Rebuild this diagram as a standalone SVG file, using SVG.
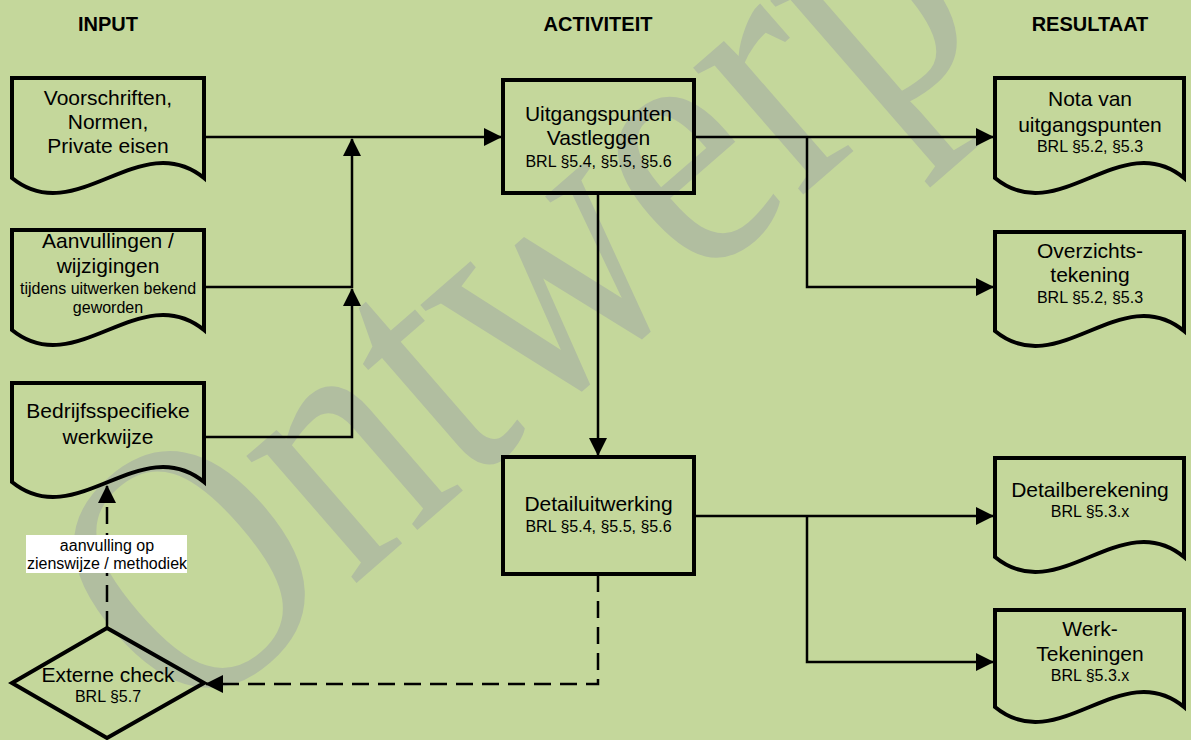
<svg xmlns="http://www.w3.org/2000/svg" width="1191" height="740" viewBox="0 0 1191 740">
<style>
.t{font-family:"Liberation Sans",Arial,sans-serif;fill:#000;text-anchor:middle}
.h{font-size:20px;font-weight:bold}
.m{font-size:21px}
.s{font-size:16px}
.shape{fill:none;stroke:#000;stroke-width:4;stroke-linejoin:miter}
.c{fill:none;stroke:#000;stroke-width:2.5}
.d{stroke-dasharray:17 9}
</style>
<defs>
<marker id="arr" viewBox="0 0 18 18" refX="17" refY="9" markerWidth="18" markerHeight="18" markerUnits="userSpaceOnUse" orient="auto">
<path d="M0,0 L18,9 L0,18 Z" fill="#000"/>
</marker>
</defs>
<rect x="0" y="0" width="1191" height="740" fill="#c4d79b"/>
<text x="0" y="0" transform="translate(185,732) rotate(-41) scale(1,1.2)" font-family="'Liberation Serif','Times New Roman',serif" font-size="305" fill="#b1bea0">Ontwerp</text>

<g id="headers">
<text class="t h" x="108" y="31">INPUT</text>
<text class="t h" x="598" y="31">ACTIVITEIT</text>
<text class="t h" x="1090" y="31">RESULTAAT</text>
</g>

<g id="connectors">
<path class="c" d="M204,137 H501" marker-end="url(#arr)"/>
<path class="c" d="M204,287 H352 V139" marker-end="url(#arr)"/>
<path class="c" d="M204,437 H352 V289" marker-end="url(#arr)"/>
<path class="c" d="M694,137 H993" marker-end="url(#arr)"/>
<path class="c" d="M807,137 V287 H993" marker-end="url(#arr)"/>
<path class="c" d="M598,193 V455" marker-end="url(#arr)"/>
<path class="c" d="M694,516 H993" marker-end="url(#arr)"/>
<path class="c" d="M807,516 V662 H993" marker-end="url(#arr)"/>
<path class="c d" d="M598,575 V684 H206" marker-end="url(#arr)"/>
<path class="c d" d="M107,628 V486" marker-end="url(#arr)"/>
</g>

<g id="n-voorschriften">
<path class="shape" d="M12,178 V78 H204 V178 C140,126 76,230 12,178 Z"/>
<text class="t m" x="108" y="105">Voorschriften,</text>
<text class="t m" x="108" y="129">Normen,</text>
<text class="t m" x="108" y="153">Private eisen</text>
</g>

<g id="n-aanvullingen">
<path class="shape" d="M12,330 V230 H204 V330 C140,278 76,382 12,330 Z"/>
<text class="t m" x="108" y="248">Aanvullingen /</text>
<text class="t m" x="108" y="273">wijzigingen</text>
<text class="t s" x="108" y="294">tijdens uitwerken bekend</text>
<text class="t s" x="108" y="313">geworden</text>
</g>

<g id="n-bedrijfs">
<path class="shape" d="M12,482 V383 H204 V482 C140,430 76,534 12,482 Z"/>
<text class="t m" x="108" y="418">Bedrijfsspecifieke</text>
<text class="t m" x="108" y="444">werkwijze</text>
</g>

<g id="n-externe">
<path class="shape" d="M107,628 L204,683 L107,738 L12,683 Z"/>
<text class="t m" x="108" y="682">Externe check</text>
<text class="t s" x="108" y="702">BRL §5.7</text>
</g>

<g id="l-aanvulling">
<rect x="26" y="535" width="161" height="38" fill="#fff"/>
<text class="t s" x="107" y="551">aanvulling op</text>
<text class="t s" x="107" y="569">zienswijze / methodiek</text>
</g>

<g id="n-uitgangspunten">
<rect class="shape" x="503" y="80" width="191" height="113"/>
<text class="t m" x="598.5" y="121">Uitgangspunten</text>
<text class="t m" x="598.5" y="145">Vastleggen</text>
<text class="t s" x="598.5" y="167">BRL §5.4, §5.5, §5.6</text>
</g>

<g id="n-detailuitwerking">
<rect class="shape" x="503" y="457" width="191" height="117"/>
<text class="t m" x="598.5" y="511">Detailuitwerking</text>
<text class="t s" x="598.5" y="532">BRL §5.4, §5.5, §5.6</text>
</g>

<g id="n-nota">
<path class="shape" d="M995,178 V78 H1184 V178 C1121,126 1058,230 995,178 Z"/>
<text class="t m" x="1090" y="106">Nota van</text>
<text class="t m" x="1090" y="132">uitgangspunten</text>
<text class="t s" x="1090" y="152">BRL §5.2, §5.3</text>
</g>

<g id="n-overzicht">
<path class="shape" d="M995,331 V232 H1184 V331 C1121,279 1058,383 995,331 Z"/>
<text class="t m" x="1090" y="258">Overzichts-</text>
<text class="t m" x="1090" y="282">tekening</text>
<text class="t s" x="1090" y="303">BRL §5.2, §5.3</text>
</g>

<g id="n-detailberekening">
<path class="shape" d="M995,557 V458 H1184 V557 C1121,505 1058,609 995,557 Z"/>
<text class="t m" x="1090" y="497">Detailberekening</text>
<text class="t s" x="1090" y="517">BRL §5.3.x</text>
</g>

<g id="n-werk">
<path class="shape" d="M995,707 V610 H1184 V707 C1121,655 1058,759 995,707 Z"/>
<text class="t m" x="1090" y="636">Werk-</text>
<text class="t m" x="1090" y="661">Tekeningen</text>
<text class="t s" x="1090" y="681">BRL §5.3.x</text>
</g>
</svg>
